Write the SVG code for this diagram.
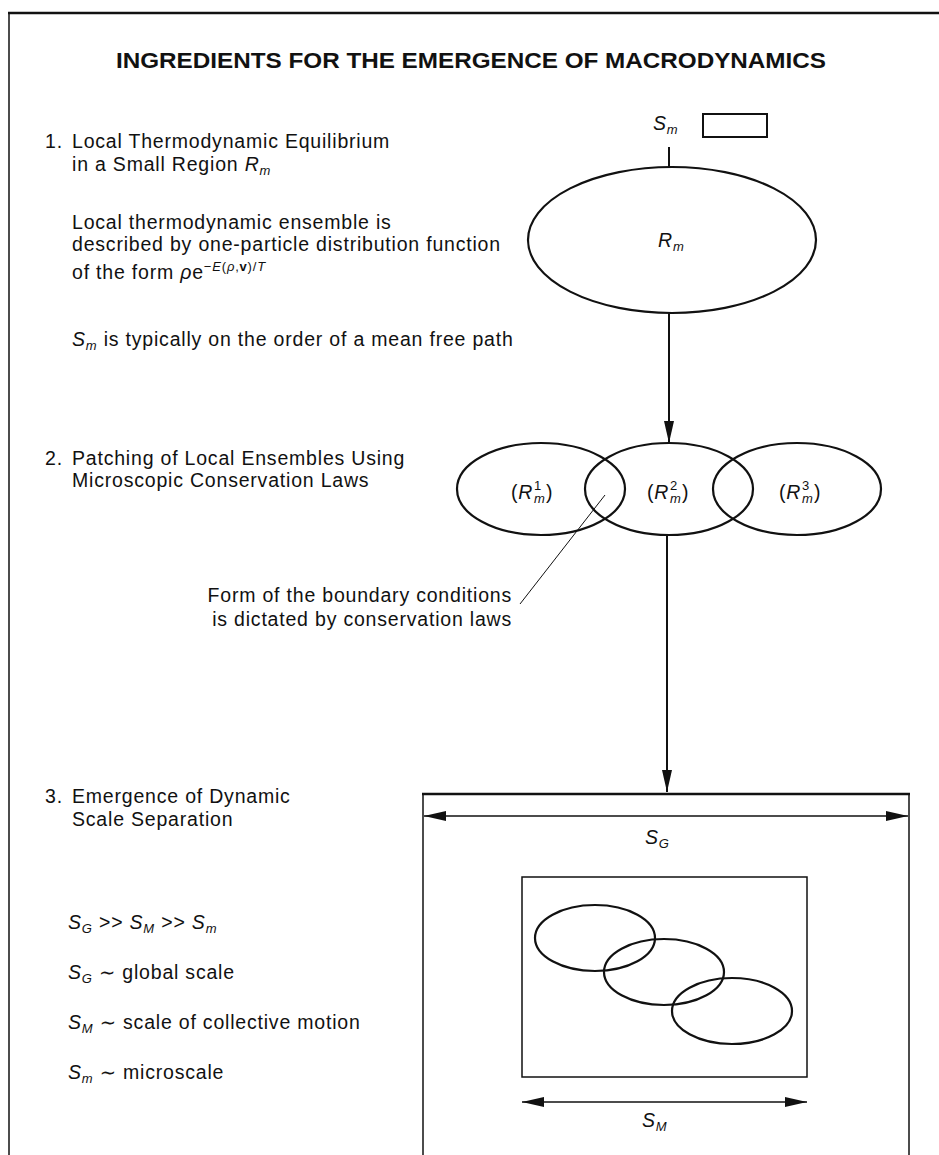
<svg xmlns="http://www.w3.org/2000/svg" width="939" height="1155" viewBox="0 0 939 1155">
<style>
text{font-family:"Liberation Sans",Arial,"DejaVu Sans",sans-serif;fill:#111;}
.t{font-size:19.5px;letter-spacing:0.8px;}
.it{font-style:italic;}
.sub{font-size:13px;font-style:italic;}
.sup{font-size:13px;font-style:normal;}
.ttl{font-size:22px;font-weight:bold;}
.ln{stroke:#111;fill:none;}
.el{stroke:#111;fill:none;stroke-width:2.2;}
</style>
<defs>
<marker id="ah" markerUnits="userSpaceOnUse" markerWidth="24" markerHeight="12" refX="22" refY="5" orient="auto-start-reverse">
<path d="M0,0 L22,5 L0,10 z" fill="#111"/>
</marker>
</defs>
<rect width="939" height="1155" fill="#fff"/>
<g id="frame" class="ln">
<line x1="8" y1="13" x2="939" y2="13" stroke-width="2.5"/>
<line x1="9" y1="13" x2="9" y2="1155" stroke-width="1.5"/>
</g>
<g id="title"><text class="ttl" x="116" y="68" textLength="710" lengthAdjust="spacingAndGlyphs">INGREDIENTS FOR THE EMERGENCE OF MACRODYNAMICS</text></g>
<g id="item1">
<text class="t" x="45" y="148">1.</text>
<text class="t" x="72" y="148">Local Thermodynamic Equilibrium</text>
<text class="t" x="72" y="171">in a Small Region <tspan class="it">R</tspan><tspan class="sub" dy="4">m</tspan></text>
<text class="t" x="72" y="229">Local thermodynamic ensemble is</text>
<text class="t" x="72" y="251">described by one-particle distribution function</text>
<text class="t" x="72" y="279">of the form <tspan class="it">ρ</tspan>e<tspan font-size="13" dy="-8">−<tspan class="it">E</tspan>(<tspan class="it">ρ</tspan>,<tspan font-weight="bold">v</tspan>)/<tspan class="it">T</tspan></tspan></text>
<text class="t" x="72" y="346"><tspan class="it">S</tspan><tspan class="sub" dy="4">m</tspan><tspan dy="-4"> is typically on the order of a mean free path</tspan></text>
</g>
<g id="item2">
<text class="t" x="45" y="465">2.</text>
<text class="t" x="72" y="465">Patching of Local Ensembles Using</text>
<text class="t" x="72" y="487">Microscopic Conservation Laws</text>
</g>
<g id="annotation">
<text class="t" x="512" y="602" text-anchor="end">Form of the boundary conditions</text>
<text class="t" x="512" y="626" text-anchor="end">is dictated by conservation laws</text>
</g>
<g id="item3">
<text class="t" x="45" y="803">3.</text>
<text class="t" x="72" y="803">Emergence of Dynamic</text>
<text class="t" x="72" y="826">Scale Separation</text>
<text class="t" x="68" y="929"><tspan class="it">S</tspan><tspan class="sub" dy="4">G</tspan><tspan dy="-4"> &gt;&gt; </tspan><tspan class="it">S</tspan><tspan class="sub" dy="4">M</tspan><tspan dy="-4"> &gt;&gt; </tspan><tspan class="it">S</tspan><tspan class="sub" dy="4">m</tspan></text>
<text class="t" x="68" y="979"><tspan class="it">S</tspan><tspan class="sub" dy="4">G</tspan><tspan dy="-4"> ∼ global scale</tspan></text>
<text class="t" x="68" y="1029"><tspan class="it">S</tspan><tspan class="sub" dy="4">M</tspan><tspan dy="-4"> ∼ scale of collective motion</tspan></text>
<text class="t" x="68" y="1079"><tspan class="it">S</tspan><tspan class="sub" dy="4">m</tspan><tspan dy="-4"> ∼ microscale</tspan></text>
</g>
<g id="node-scale">
<text class="t" x="653" y="130"><tspan class="it">S</tspan><tspan class="sub" dy="4">m</tspan></text>
<rect x="703" y="114" width="64" height="23" class="ln" stroke-width="2"/>
<line x1="669" y1="147" x2="669" y2="167" class="ln" stroke-width="2"/>
</g>
<g id="node-Rm">
<ellipse cx="672" cy="240" rx="144" ry="73" class="el"/>
<text class="t" x="658" y="247"><tspan class="it">R</tspan><tspan class="sub" dy="4">m</tspan></text>
</g>
<g id="node-Rm1">
<ellipse cx="541" cy="489" rx="84" ry="46" class="el"/>
<text class="t" x="511" y="499">(<tspan class="it">R</tspan></text>
<text class="sup" x="534" y="490">1</text>
<text class="sub" x="534" y="503">m</text>
<text class="t" x="546" y="499">)</text>
</g>
<g id="node-Rm2">
<ellipse cx="669" cy="489" rx="84" ry="46" class="el"/>
<text class="t" x="647" y="499">(<tspan class="it">R</tspan></text>
<text class="sup" x="670" y="490">2</text>
<text class="sub" x="670" y="503">m</text>
<text class="t" x="682" y="499">)</text>
</g>
<g id="node-Rm3">
<ellipse cx="797" cy="489" rx="84" ry="46" class="el"/>
<text class="t" x="779" y="499">(<tspan class="it">R</tspan></text>
<text class="sup" x="802" y="490">3</text>
<text class="sub" x="802" y="503">m</text>
<text class="t" x="814" y="499">)</text>
</g>
<g id="node-global">
<line x1="422" y1="794" x2="910" y2="794" class="ln" stroke-width="2.5"/>
<line x1="423" y1="794" x2="423" y2="1155" class="ln" stroke-width="1.5"/>
<line x1="909" y1="794" x2="909" y2="1155" class="ln" stroke-width="1.5"/>
<text class="t" x="645" y="844"><tspan class="it">S</tspan><tspan class="sub" dy="4">G</tspan></text>
</g>
<g id="node-collective">
<rect x="522" y="877" width="285" height="200" class="ln" stroke-width="1.5"/>
<ellipse cx="595" cy="938" rx="60" ry="33" class="el"/>
<ellipse cx="664" cy="972" rx="60" ry="33" class="el"/>
<ellipse cx="732" cy="1011" rx="60" ry="33" class="el"/>
<text class="t" x="642" y="1127"><tspan class="it">S</tspan><tspan class="sub" dy="4">M</tspan></text>
</g>
<g id="connectors" class="ln">
<line x1="669" y1="313" x2="669" y2="443" stroke-width="2" marker-end="url(#ah)"/>
<line x1="667" y1="535" x2="667" y2="792" stroke-width="2" marker-end="url(#ah)"/>
<line x1="605" y1="495" x2="520" y2="604" stroke-width="1"/>
<line x1="424" y1="816" x2="908" y2="816" stroke-width="1.5" marker-start="url(#ah)" marker-end="url(#ah)"/>
<line x1="522" y1="1102" x2="807" y2="1102" stroke-width="1.5" marker-start="url(#ah)" marker-end="url(#ah)"/>
</g>
</svg>
